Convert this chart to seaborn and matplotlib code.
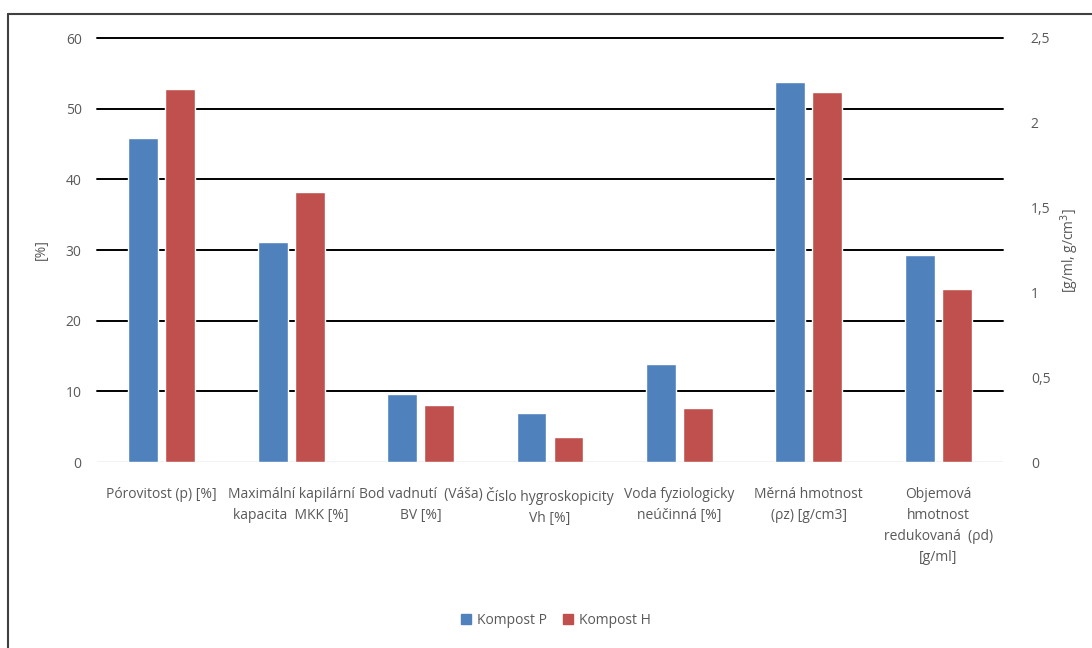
import numpy as np
import pandas as pd
import matplotlib
matplotlib.use("Agg")
import matplotlib.pyplot as plt
import seaborn as sns

categories = ["Pórovitost (p) [%]",
              "Maximální kapilární\nkapacita  MKK [%]",
              "Bod vadnutí  (Váša)\nBV [%]",
              "Číslo hygroskopicity\nVh [%]",
              "Voda fyziologicky\nneúčinná [%]",
              "Měrná hmotnost\n(ρz) [g/cm3]",
              "Objemová\nhmotnost\nredukovaná  (ρd)\n[g/ml]"]
series = ["Kompost P", "Kompost H"]
# first five categories are in % (left axis), last two in g/ml (right axis)
kompost_p = [45.9, 31.1, 9.6, 6.9, 13.9, 2.24, 1.22]
kompost_h = [52.8, 38.2, 8.1, 3.6, 7.7, 2.18, 1.02]
left_ticks = [0, 10, 20, 30, 40, 50, 60]
right_ticks = [0, 0.5, 1, 1.5, 2, 2.5]
right_labels = ["0", "0,5", "1", "1,5", "2", "2,5"]
colors = ["#4F81BD", "#C0504D"]

df = pd.DataFrame({
    "kat": categories * 2,
    "serie": [series[0]] * 7 + [series[1]] * 7,
    "hodnota": kompost_p + kompost_h,
    "osa": (["L"] * 5 + ["R"] * 2) * 2,
})

sns.set_style("white")
plt.rcParams["font.family"] = ["Open Sans", "DejaVu Sans"]
grey = "#595959"

fig = plt.figure(figsize=(10.92, 6.48), dpi=100)
ax = fig.add_axes([97 / 1092, 1 - 462 / 648, 906 / 1092, 424 / 648])
ax2 = ax.twinx()

sns.barplot(data=df[df.osa == "L"], x="kat", y="hodnota", hue="serie",
            order=categories, hue_order=series, palette=colors,
            width=0.57, gap=0.19, ax=ax, legend=True, saturation=1)
sns.barplot(data=df[df.osa == "R"], x="kat", y="hodnota", hue="serie",
            order=categories, hue_order=series, palette=colors,
            width=0.57, gap=0.19, ax=ax2, legend=False, saturation=1)

ax.set_ylim(0, 60)
ax2.set_ylim(0, 2.5)
ax.set_xlim(-0.5, 6.5)
ax.set_yticks(left_ticks)
ax2.set_yticks(right_ticks)
ax2.set_yticklabels(right_labels)

for y in left_ticks[1:]:
    ax.axhline(y, color="black", lw=1.4, zorder=0, clip_on=False)
ax.axhline(0, color="#BFBFBF", lw=1, zorder=0)
ax.set_axisbelow(True)

for a in (ax, ax2):
    for s in a.spines.values():
        s.set_visible(False)
    a.tick_params(length=0, labelsize=10, colors=grey)
ax.tick_params(axis="y", pad=11)
ax2.tick_params(axis="y", pad=20)
ax.tick_params(axis="x", pad=18)
for t in ax.get_xticklabels():
    t.set_linespacing(1.55)

ax.set_xlabel("")
ax.set_ylabel("[%]", color=grey, fontsize=10, labelpad=12)
ax2.set_ylabel("[g/ml, g/cm$^3$]", color=grey, fontsize=10, labelpad=6)

leg = ax.get_legend()
leg.remove()
handles = [plt.Rectangle((0, 0), 1, 1, color=c) for c in colors]
fig.legend(handles, series, loc="center", bbox_to_anchor=(556 / 1092, 1 - 620 / 648),
           ncol=2, frameon=False, fontsize=10, handlelength=0.7, handleheight=0.7,
           columnspacing=1.2, handletextpad=0.4, labelcolor=grey)

# outer frame of the chart area
fig.add_artist(plt.Line2D([8 / 1092, 8 / 1092], [0, 1 - 14 / 648], color="#404040", lw=1.5))
fig.add_artist(plt.Line2D([8 / 1092, 1], [1 - 14 / 648, 1 - 14 / 648], color="#404040", lw=1.5))

fig.savefig("out.png", dpi=100)
